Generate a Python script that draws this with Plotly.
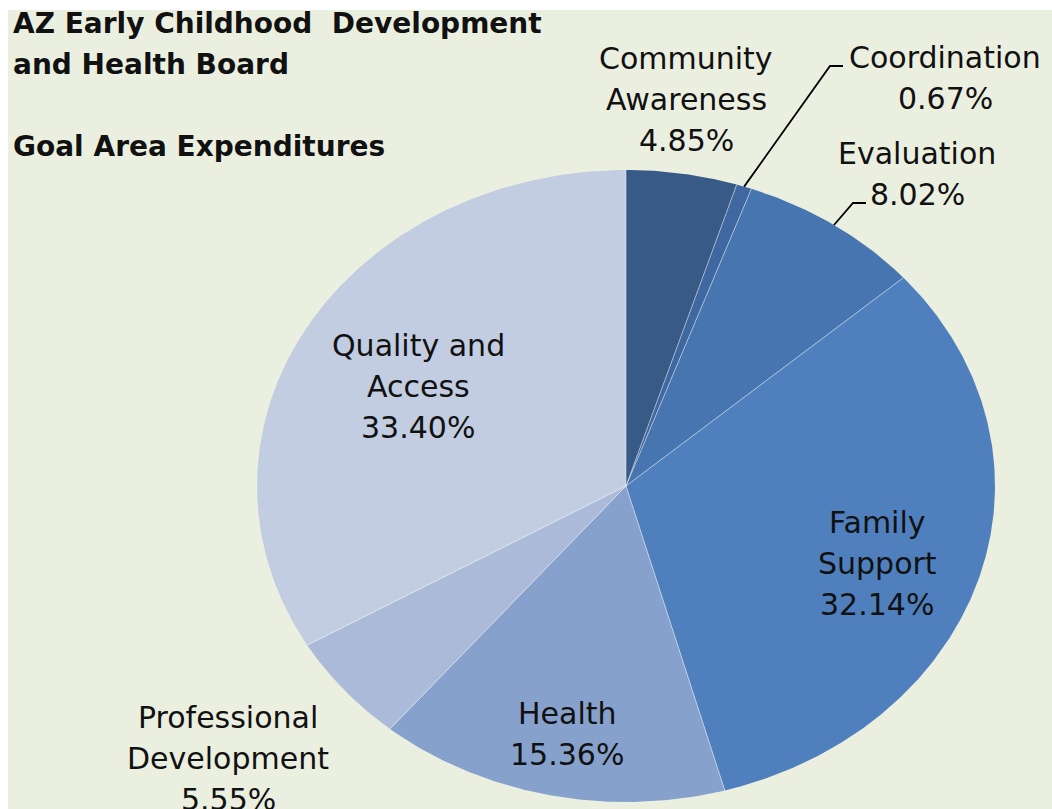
import numpy as np
import plotly.graph_objects as go

# ---- data ----
categories = ["Community Awareness", "Coordination", "Evaluation", "Family Support",
              "Health", "Professional Development", "Quality and Access"]
values = [4.85, 0.67, 8.02, 32.14, 15.36, 5.55, 33.40]
label_lines = [["Community", "Awareness"], ["Coordination"], ["Evaluation"],
               ["Family", "Support"], ["Health"], ["Professional", "Development"],
               ["Quality and", "Access"]]
title_lines = ["AZ Early Childhood  Development", "and Health Board", "", "Goal Area Expenditures"]

# ---- style / layout ----
colors = ["#375A87", "#3F68A1", "#4775AF", "#4F80BD", "#86A1CC", "#AABAD8", "#C3CDE2"]
bg = "#EBEFE0"
W, H = 1052, 809
CX, CY, RX, RY = 626, 486, 369, 316
LINE_GAP = 41
FONT = "DejaVu Sans"
# label anchor (center x, first-line y) per category
label_pos = [(686, 58), (945, 57), (917, 153), (877, 522), (567, 713), (228, 717), (418, 345)]
# leader elbows for outside labels (elbow point, end point)
leaders = {1: [(830, 66), (843, 66)], 2: [(853, 203), (866, 203)]}


def ell(t):
    return CX + RX * np.sin(t), CY - RY * np.cos(t)


fig = go.Figure()
total = sum(values)
cum = np.concatenate([[0], np.cumsum(values)]) / total * 2 * np.pi

for i, (cat, v) in enumerate(zip(categories, values)):
    a0, a1 = cum[i], cum[i + 1]
    n = max(3, int(np.degrees(a1 - a0) * 2))
    t = np.linspace(a0, a1, n)
    ex, ey = ell(t)
    xs = np.concatenate([[CX], ex, [CX]])
    ys = np.concatenate([[CY], ey, [CY]])
    fig.add_trace(go.Scatter(x=xs, y=ys, fill="toself", fillcolor=colors[i], mode="lines",
                             line=dict(width=0, color=colors[i]), name=cat,
                             hoverinfo="skip", showlegend=False))

# thin light separators
sx, sy = [], []
for a in cum[:-1]:
    px, py = ell(a)
    sx += [CX, px, None]
    sy += [CY, py, None]
fig.add_trace(go.Scatter(x=sx, y=sy, mode="lines", line=dict(width=1, color="rgba(255,255,255,0.45)"),
                         hoverinfo="skip", showlegend=False))

# leader lines from mid-angle of slice
for idx, pts in leaders.items():
    mid = (cum[idx] + cum[idx + 1]) / 2
    px, py = ell(mid)
    lx = [px] + [p[0] for p in pts]
    ly = [py] + [p[1] for p in pts]
    fig.add_trace(go.Scatter(x=lx, y=ly, mode="lines", line=dict(width=1.8, color="black"),
                             hoverinfo="skip", showlegend=False))

# labels
for i, (lines, v) in enumerate(zip(label_lines, values)):
    x0, y0 = label_pos[i]
    for j, txt in enumerate(lines + [f"{v:.2f}%"]):
        fig.add_annotation(x=x0, y=y0 + j * LINE_GAP, text=txt, showarrow=False,
                           xanchor="center", yanchor="middle",
                           font=dict(family=FONT, size=30, color="#111111"))

# title
for j, txt in enumerate(title_lines):
    if txt:
        fig.add_annotation(x=11, y=23 + j * 41.3, text=f"<b>{txt}</b>", showarrow=False,
                           xanchor="left", yanchor="middle",
                           font=dict(family=FONT, size=28, color="#111111"))

fig.update_layout(
    width=W, height=H,
    margin=dict(l=8, r=0, t=10, b=0),
    paper_bgcolor="white", plot_bgcolor=bg,
    xaxis=dict(range=[8, W], visible=False, fixedrange=True),
    yaxis=dict(range=[H, 10], visible=False, fixedrange=True),
    hovermode=False,
)
fig.write_html("out.html", config={"displayModeBar": False},
               post_script="document.body.style.margin='0';document.body.style.overflow='hidden';")
